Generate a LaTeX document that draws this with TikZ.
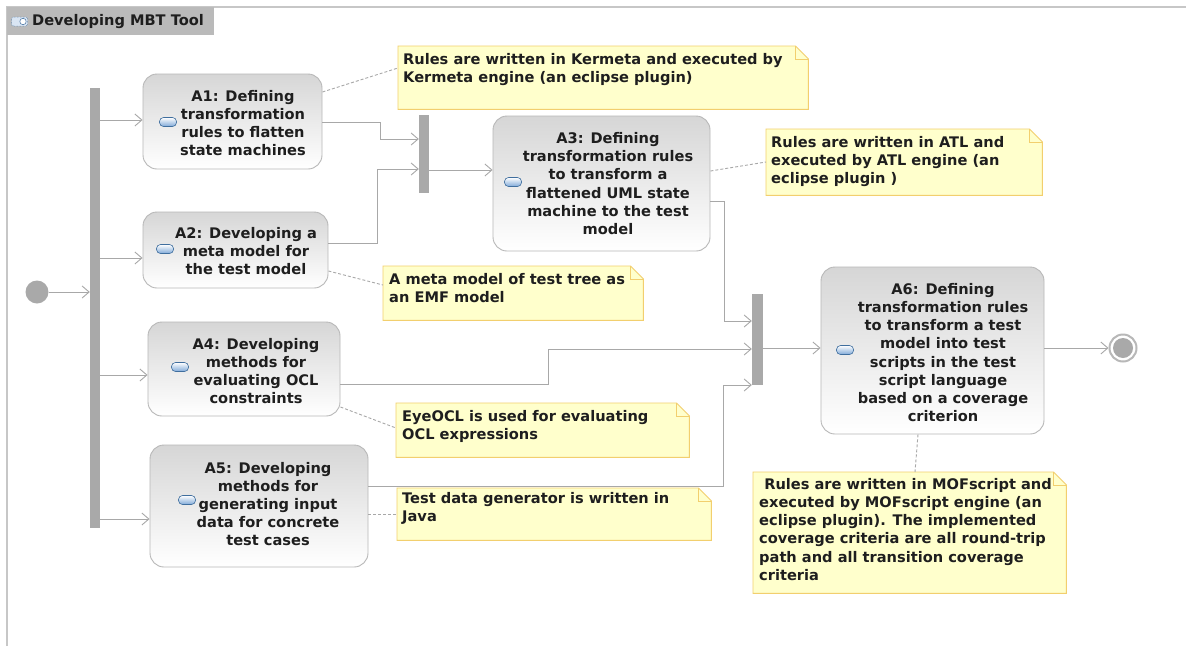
\documentclass[tikz,border=0pt]{standalone}
\usepackage{fontspec}
\setmainfont{DejaVu Sans}
\usetikzlibrary{calc,arrows.meta}
\definecolor{lineg}{HTML}{A8A8A8}
\definecolor{barg}{HTML}{A9A9A9}
\definecolor{actborder}{HTML}{B8B8B8}
\definecolor{acttop}{HTML}{D6D6D6}
\definecolor{notefill}{HTML}{FFFFCC}
\definecolor{noteborder}{HTML}{F2CF6E}
\definecolor{txt}{HTML}{1E1E1E}
\definecolor{iconblue}{HTML}{7FA9D8}
\definecolor{icondark}{HTML}{3F6E9E}
\tikzset{
  txtfont/.style={font=\fontsize{14.6}{18.2}\selectfont\bfseries, text=txt},
  act/.style={draw=actborder, line width=0.9pt, rounded corners=14pt,
    top color=acttop, bottom color=white, inner sep=0pt},
  acttext/.style={txtfont, align=center, inner sep=0pt},
  actico/.style={draw=icondark, line width=0.6pt, rounded corners=4pt,
    top color=white, bottom color=iconblue, minimum width=17pt, minimum height=9pt, inner sep=0pt},
  bar/.style={fill=barg, draw=none, inner sep=0pt},
  flow/.style={draw=lineg, line width=0.9pt, -{Straight Barb[length=7pt,width=12pt,line width=0.9pt]}},
  anchorline/.style={draw=lineg, line width=0.9pt, dash pattern=on 3pt off 2pt},
  notebox/.style={draw=none, inner sep=0pt},
  notetext/.style={txtfont, align=left, anchor=north west, inner sep=0pt},
}
\newcommand{\notebody}[1]{%
  \filldraw[fill=notefill, draw=noteborder, line width=0.9pt]
    (#1.north west) -- ($(#1.north east)+(-13,0)$) -- ($(#1.north east)+(0,13)$)
    -- (#1.south east) -- (#1.south west) -- cycle;
  \draw[draw=noteborder, line width=0.9pt]
    ($(#1.north east)+(-13,0)$) -- ($(#1.north east)+(-13,13)$) -- ($(#1.north east)+(0,13)$);
}
\begin{document}
\begin{tikzpicture}[x=1pt,y=-1pt]
\useasboundingbox[fill=white] (0,0) rectangle (1186,646);

% diagram frame and title tab
\draw[draw=black!22, line width=1.2pt] (7,646) -- (7,7) -- (1186,7);
\fill[black!27] (7,7) rectangle (214,35);
\draw[draw=icondark, densely dotted, line width=0.5pt, fill=iconblue!30, rounded corners=2pt] (11.5,17) rectangle (27.5,26);
\draw[draw=icondark, line width=0.5pt, fill=white] (23,21.5) circle (3.2);
\node[txtfont, anchor=west, inner sep=0pt] (title) at (32,21.5) {Developing MBT Tool};

% initial and final nodes
\node[circle, fill=barg, minimum size=23pt, inner sep=0pt] (start) at (37,292) {};
\node[circle, draw=black!28, line width=2pt, fill=white, minimum size=27pt, inner sep=0pt] (final) at (1123,348) {};
\fill[barg] (final.center) circle (10);

% fork and join bars
\node[bar, minimum width=10pt, minimum height=440pt] (fork) at (95,308) {};
\node[bar, minimum width=10pt, minimum height=78pt] (join1) at (424,154) {};
\node[bar, minimum width=11pt, minimum height=91pt] (join2) at (757.5,339.5) {};

% actions
\node[act, minimum width=179pt, minimum height=95pt] (a1) at (232.5,121.5) {};
\node[acttext] at (243,123) {A1: Defining\\transformation\\rules to flatten\\state machines};
\node[actico] at (168,122) {};

\node[act, minimum width=185pt, minimum height=76pt] (a2) at (235.5,250) {};
\node[acttext] at (246,251) {A2: Developing a\\meta model for\\the test model};
\node[actico] at (165,249) {};

\node[act, minimum width=192pt, minimum height=94pt] (a4) at (244,369) {};
\node[acttext] at (256,371) {A4: Developing\\methods for\\evaluating OCL\\constraints};
\node[actico] at (180,367) {};

\node[act, minimum width=218pt, minimum height=122pt] (a5) at (259,506) {};
\node[acttext] at (268,504) {A5: Developing\\methods for\\generating input\\data for concrete\\test cases};
\node[actico] at (187,500) {};

\node[act, minimum width=217pt, minimum height=135pt] (a3) at (601.5,183.5) {};
\node[acttext] at (608,183.5) {A3: Defining\\transformation rules\\to transform a\\flattened UML state\\machine to the test\\model};
\node[actico] at (513,182) {};

\node[act, minimum width=223pt, minimum height=167pt] (a6) at (932.5,350.5) {};
\node[acttext] at (943,352.5) {A6: Defining\\transformation rules\\to transform a test\\model into test\\scripts in the test\\script language\\based on a coverage\\criterion};
\node[actico] at (845,350) {};

% control flows
\draw[flow] (start.east) -- (fork.west |- start.east);
\draw[flow] (fork.east |- 0,120) -- (a1.west |- 0,120);
\draw[flow] (fork.east |- 0,258) -- (a2.west |- 0,258);
\draw[flow] (fork.east |- 0,375) -- (a4.west |- 0,375);
\draw[flow] (fork.east |- 0,519) -- (a5.west |- 0,519);

\draw[flow] (a1.east |- 0,122) -| (380,139) -- (join1.west |- 0,139);
\draw[flow] (a2.east |- 0,243) -| (377,169) -- (join1.west |- 0,169);
\draw[flow] (join1.east |- 0,170) -- (a3.west |- 0,170);

\draw[flow] (a3.east |- 0,201) -| (724,321) -- (join2.west |- 0,321);
\draw[flow] (a4.east |- 0,384) -| (548,349) -- (join2.west |- 0,349);
\draw[flow] (a5.east |- 0,486) -| (723,385) -- (join2.west |- 0,385);
\draw[flow] (join2.east |- 0,348) -- (a6.west |- 0,348);
\draw[flow] (a6.east |- 0,348) -- (final.west);

% comments
\node[notebox, minimum width=410pt, minimum height=63pt, anchor=north west] (n1) at (398,46) {};
\notebody{n1}
\node[notetext] at ($(n1.north west)+(5,7)$) {Rules are written in Kermeta and executed by\\Kermeta engine (an eclipse plugin)};

\node[notebox, minimum width=276pt, minimum height=66pt, anchor=north west] (n2) at (766,129) {};
\notebody{n2}
\node[notetext] at ($(n2.north west)+(5,7)$) {Rules are written in ATL and\\executed by ATL engine (an\\eclipse plugin )};

\node[notebox, minimum width=260pt, minimum height=54pt, anchor=north west] (n3) at (383,266) {};
\notebody{n3}
\node[notetext] at ($(n3.north west)+(6,7)$) {A meta model of test tree as\\an EMF model};

\node[notebox, minimum width=293pt, minimum height=54pt, anchor=north west] (n4) at (396,403) {};
\notebody{n4}
\node[notetext] at ($(n4.north west)+(6,7)$) {EyeOCL is used for evaluating\\OCL expressions};

\node[notebox, minimum width=314pt, minimum height=52pt, anchor=north west] (n5) at (397,488) {};
\notebody{n5}
\node[notetext] at ($(n5.north west)+(5,4)$) {Test data generator is written in\\Java};

\node[notebox, minimum width=313pt, minimum height=121pt, anchor=north west] (n6) at (753,472) {};
\notebody{n6}
\node[notetext] at ($(n6.north west)+(6,6)$) {\ Rules are written in MOFscript and\\executed by MOFscript engine (an\\eclipse plugin). The implemented\\coverage criteria are all round-trip\\path and all transition coverage\\criteria};

% comment links
\draw[anchorline] (a1.east |- 0,92) -- (n1.west |- 0,68);
\draw[anchorline] (a3.east |- 0,171) -- (n2.west |- 0,162);
\draw[anchorline] (a2.east |- 0,271) -- (n3.west |- 0,285);
\draw[anchorline] (a4.east |- 0,407) -- (n4.west |- 0,428);
\draw[anchorline] (a5.east |- 0,514) -- (n5.west |- 0,514);
\draw[anchorline] (a6.south -| 918,0) -- (n6.north -| 915,0);
\end{tikzpicture}
\end{document}
